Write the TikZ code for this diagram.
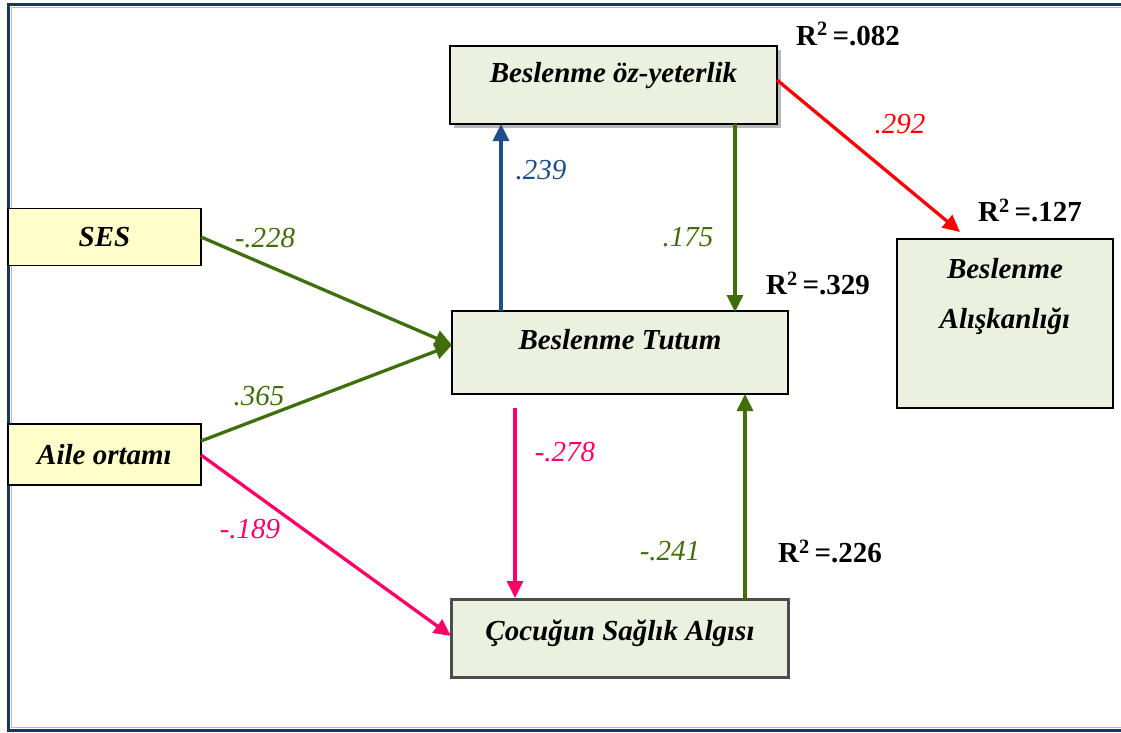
\documentclass[tikz,border=0pt]{standalone}
\usepackage{fontspec}
\setmainfont{Liberation Serif}
\usetikzlibrary{arrows.meta,shadows}
\definecolor{pathgreen}{RGB}{64,110,10}
\definecolor{pathblue}{RGB}{31,78,140}
\definecolor{pathpink}{RGB}{255,0,102}
\definecolor{pathred}{RGB}{255,0,0}
\definecolor{boxfill}{RGB}{235,241,222}
\definecolor{exofill}{RGB}{255,255,204}
\definecolor{framenavy}{RGB}{23,55,94}
\definecolor{framelight}{RGB}{175,188,206}
% text placed with its baseline raised by #1 from the node centre
\newcommand{\basetext}[2]{\raisebox{#1}[0pt][0pt]{#2}}
\tikzset{
  latent/.style={draw=black, line width=1.6pt, fill=boxfill, inner sep=0pt,
    font=\fontsize{29}{33}\selectfont\bfseries\itshape},
  exo/.style={draw=black, line width=1.4pt, fill=exofill, inner sep=0pt,
    minimum width=193pt, minimum height=57pt,
    font=\fontsize{29}{33}\selectfont\bfseries\itshape},
  path/.style={line width=3.3pt, -{Triangle[length=17pt,width=16pt]}},
  coef/.style={font=\fontsize{29}{32}\selectfont\itshape},
  rsq/.style={font=\fontsize{29}{32}\selectfont\bfseries}
}
\begin{document}
\begin{tikzpicture}[x=1pt,y=-1pt]
\useasboundingbox (0,0) rectangle (1121,733);
% outer frame
\draw[framenavy, line width=3pt] (8.5,4.5) rectangle (1130,730);
\draw[framelight, line width=0.8pt] (11,7) rectangle (1130,727.5);

% boxes
\node[latent, minimum width=327pt, minimum height=78pt,
  drop shadow={shadow xshift=4pt, shadow yshift=-4pt, fill=gray!55, opacity=1}]
  (oz) at (613.5,85) {\basetext{2pt}{Beslenme öz-yeterlik}};
\node[exo] (ses) at (104.5,237) {SES};
\node[exo, minimum height=61pt] (aile) at (104.5,454.5) {Aile ortamı};
\node[latent, minimum width=336pt, minimum height=83pt]
  (tutum) at (620,352.5) {\basetext{3.5pt}{Beslenme Tutum}};
\node[latent, draw=gray!60!black, line width=2.2pt, minimum width=337pt, minimum height=78pt]
  (saglik) at (620,638.5) {\basetext{-1.5pt}{Çocuğun Sağlık Algısı}};
\node[latent, minimum width=216pt, minimum height=169pt]
  (aliskan) at (1005,323.5)
  {\basetext{-4.5pt}{\begin{tabular}[b]{@{}c@{}}Beslenme\\[17pt]Alışkanlığı\end{tabular}}};

% R-squared values
\node[rsq] (r1) at (848,34) {R\textsuperscript{2}\,=.082};
\node[rsq] (r2) at (1030,210) {R\textsuperscript{2}\,=.127};
\node[rsq] (r3) at (818,283) {R\textsuperscript{2}\,=.329};
\node[rsq] (r4) at (830,551) {R\textsuperscript{2}\,=.226};

% connector end points
\coordinate (tutumL) at (452,345);
\coordinate (sesR) at (201,237);
\coordinate (aileR1) at (201,441);
\coordinate (aileR2) at (201,455);
\coordinate (saglikL) at (451,636);
\coordinate (tutumT1) at (501,311);
\coordinate (ozB1) at (501,124);
\coordinate (ozB2) at (735,124);
\coordinate (tutumT2) at (735,312);
\coordinate (ozR) at (777,80);
\coordinate (alTip) at (960,232);
\coordinate (tutumB1) at (515,408);
\coordinate (saglikT1) at (515,598);
\coordinate (saglikT2) at (745,599);
\coordinate (tutumB2) at (745,394);

% paths
\draw[path, pathgreen] (sesR) -- (tutumL);
\draw[path, pathgreen] (aileR1) -- (tutumL);
\draw[path, pathpink] (aileR2) -- (saglikL);
\draw[path, pathblue] (tutumT1) -- (ozB1);
\draw[path, pathgreen] (ozB2) -- (tutumT2);
\draw[path, pathred] (ozR) -- (alTip);
\draw[path, pathpink] (tutumB1) -- (saglikT1);
\draw[path, pathgreen] (saglikT2) -- (tutumB2);

% path coefficients
\node[coef, pathgreen] (c1) at (265,238) {-.228};
\node[coef, pathgreen] (c2) at (259,396) {.365};
\node[coef, pathpink] (c3) at (250,529) {-.189};
\node[coef, pathblue] (c4) at (541,170) {.239};
\node[coef, pathgreen] (c5) at (688,237) {.175};
\node[coef, pathred] (c6) at (900,124) {.292};
\node[coef, pathpink] (c7) at (565,452) {-.278};
\node[coef, pathgreen] (c8) at (670,551) {-.241};
\end{tikzpicture}
\end{document}
